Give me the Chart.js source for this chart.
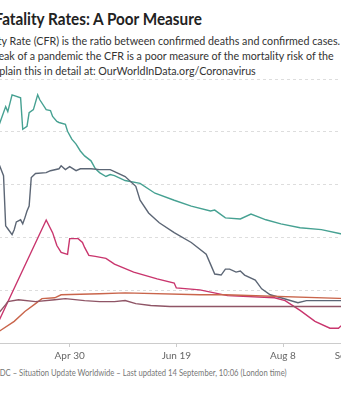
<!DOCTYPE html>
<html>
<head>
<meta charset="utf-8">
<script src="https://cdn.jsdelivr.net/npm/chart.js@4"></script>
<style>
  html, body { margin: 0; padding: 0; background: #fff; }
  body { width: 341px; height: 400px; overflow: hidden; position: relative; font-family: Lato, sans-serif; }
  .txt { position: absolute; white-space: nowrap; transform-origin: 0 0; }
  #title { left: -42px; top: 8px; font-size: 17px; line-height: 22px; font-weight: 700; color: #222; transform: scaleX(0.9); }
  .sub { font-size: 10.7px; line-height: 15px; color: #333; }
  #sub1 { left: -73px; top: 33px; }
  #sub2 { left: -80px; top: 48px; }
  #sub3 { left: -70px; top: 63px; }
  #note { left: -66px; top: 367px; font-size: 8.5px; line-height: 12px; color: #777; transform: scaleX(0.9); }
  #wrap { position: absolute; left: -67px; top: 60px; width: 444px; height: 305px; }
</style>
</head>
<body>
<div id="title" class="txt">Case Fatality Rates: A Poor Measure</div>
<div id="sub1" class="txt sub">The Case Fatality Rate (CFR) is the ratio between confirmed deaths and confirmed cases.</div>
<div id="sub2" class="txt sub">During the outbreak of a pandemic the CFR is a poor measure of the mortality risk of the</div>
<div id="sub3" class="txt sub">disease. We explain this in detail at: OurWorldInData.org/Coronavirus</div>
<div id="note" class="txt">Source: European CDC – Situation Update Worldwide – Last updated 14 September, 10:06 (London time)</div>
<div id="wrap"><canvas id="chart"></canvas></div>
<script>
// day of year 2020 on x, case fatality rate in % on y
const tickDays = [71, 121, 171, 221, 251];
const tickLabels = ['Mar 11', 'Apr 30', 'Jun 19', 'Aug 8', 'Sep 7'];

const tealDays = [86, 88, 91, 92, 94, 98, 99, 101, 102, 104, 106, 107, 110, 112, 113, 115, 116, 119, 120, 122, 124, 126, 128, 131, 133, 135, 138, 140, 142, 147, 154, 161, 170, 178, 187, 189, 194, 201, 206, 213, 220, 229, 239, 248, 251];
const tealCfr = [11.58, 12.42, 13.43, 13.15, 14.10, 13.93, 12.14, 12.31, 13.09, 13.26, 14.10, 13.82, 13.26, 13.21, 12.87, 12.59, 12.53, 12.42, 12.03, 11.58, 11.30, 10.91, 10.63, 10.35, 9.91, 9.68, 9.46, 9.57, 9.51, 9.23, 9.07, 8.51, 8.11, 7.78, 7.50, 7.55, 7.11, 7.05, 7.33, 7.00, 6.77, 6.55, 6.44, 6.21, 6.12];

const grayDays = [86, 88, 90, 91, 92, 94, 95, 96, 98, 99, 100, 101, 102, 103, 105, 110, 112, 116, 117, 119, 121, 124, 126, 131, 135, 140, 142, 147, 152, 154, 158, 163, 170, 178, 185, 187, 189, 192, 194, 196, 199, 201, 203, 208, 211, 215, 220, 228, 232, 251];
const grayCfr = [11.02, 10.13, 9.51, 6.66, 6.49, 6.16, 6.44, 6.88, 7.00, 6.77, 7.11, 7.50, 7.78, 9.40, 9.63, 9.68, 9.79, 9.90, 10.07, 9.85, 10.02, 9.79, 9.90, 9.90, 9.85, 9.85, 9.74, 9.46, 8.90, 8.11, 7.39, 6.83, 6.27, 5.71, 5.04, 4.48, 3.92, 3.86, 4.20, 4.20, 4.03, 4.09, 3.86, 3.58, 3.08, 2.74, 2.57, 2.29, 2.41, 2.41];

const pinkDays = [86, 110, 113, 115, 117, 120, 121, 125, 127, 128, 130, 133, 138, 142, 151, 162, 170, 171, 182, 195, 217, 222, 229, 236, 243, 247, 248, 251];
const pinkCfr = [0.78, 6.99, 6.27, 5.54, 5.15, 5.04, 5.93, 5.93, 5.71, 5.43, 4.98, 4.92, 4.81, 4.48, 4.03, 3.64, 3.41, 3.13, 3.02, 2.69, 2.57, 2.41, 1.85, 1.23, 0.84, 0.84, 0.95, 1.18];

const orangeDays = [86, 88, 95, 100, 105, 108, 114, 117, 135, 147, 182, 194, 251];
const orangeCfr = [0.50, 0.67, 1.23, 1.79, 2.24, 2.52, 2.57, 2.74, 2.80, 2.85, 2.74, 2.74, 2.52];

const maroonDays = [86, 88, 91, 92, 97, 105, 114, 119, 128, 135, 142, 147, 152, 159, 168, 251];
const maroonCfr = [1.62, 1.73, 2.18, 2.35, 2.46, 2.35, 2.46, 2.52, 2.41, 2.35, 2.35, 2.41, 2.24, 2.13, 2.07, 2.07];

const points = (days, vals) => days.map((d, i) => ({ x: d, y: vals[i] }));

const line = (days, vals, color) => ({
  data: points(days, vals),
  borderColor: color,
  borderWidth: 1.4,
  pointRadius: 0,
  tension: 0,
  fill: false
});

new Chart(document.getElementById('chart'), {
  type: 'line',
  data: {
    datasets: [
      line(maroonDays, maroonCfr, '#8f5566'),
      line(orangeDays, orangeCfr, '#c9654b'),
      line(pinkDays, pinkCfr, '#c9356d'),
      line(grayDays, grayCfr, '#5c6675'),
      line(tealDays, tealCfr, '#46a192')
    ]
  },
  options: {
    animation: false,
    responsive: true,
    maintainAspectRatio: false,
    layout: { padding: { left: 30, right: 30, top: 19, bottom: 0 } },
    plugins: { legend: { display: false }, tooltip: { enabled: false } },
    scales: {
      x: {
        type: 'linear',
        min: 71,
        max: 251,
        afterBuildTicks: (scale) => { scale.ticks = tickDays.map(v => ({ value: v })); },
        ticks: {
          autoSkip: false,
          maxRotation: 0,
          padding: 3,
          color: '#666',
          font: { family: 'Lato', size: 10 },
          callback: (v) => tickLabels[tickDays.indexOf(v)]
        },
        grid: { drawOnChartArea: false, drawTicks: true, tickLength: 4, color: '#ccc' },
        border: { color: '#ccc' }
      },
      y: {
        min: 0,
        max: 15,
        ticks: { stepSize: 3, display: false },
        grid: { color: '#ddd', drawTicks: false },
        border: { display: false, dash: [3, 3] }
      }
    }
  }
});
</script>
</body>
</html>
